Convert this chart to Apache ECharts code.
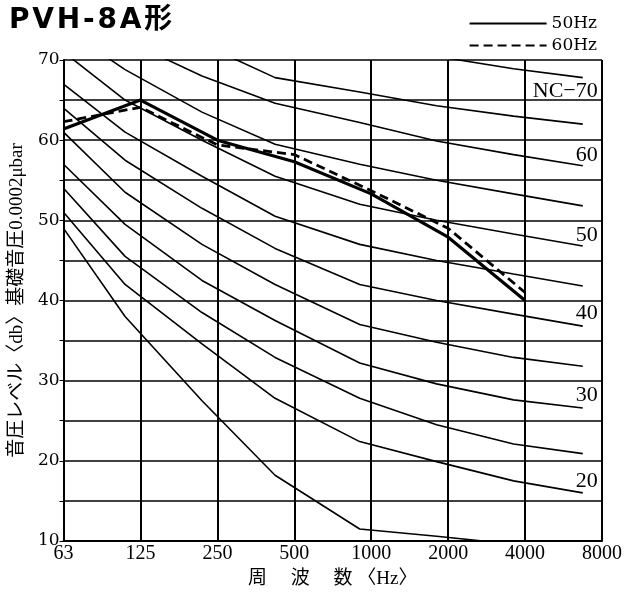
<!DOCTYPE html>
<html>
<head>
<meta charset="utf-8">
<script src="https://cdn.jsdelivr.net/npm/echarts@6/dist/echarts.min.js"></script>
<style>html,body{margin:0;padding:0;background:#fff}#c{width:639px;height:594px}</style>
</head>
<body>
<div id="c"></div>
<script>
// Octave-band tick labels (Hz)
const tickLabels = ['63', '125', '250', '500', '1000', '2000', '4000', '8000'];
// NC curve break-points, in octaves above 63 Hz
const ncPos = [0, 0.8, 1.8, 2.75, 3.85, 4.85, 5.85, 6.75];
const nc70 = [83, 79, 75, 72, 71, 70.45, 68.9, 67.8];
const nc65 = [80, 75.5, 72, 67.8, 66.0, 64.3, 63.0, 62.0];
const nc60 = [77, 72.5, 68, 64.6, 62.2, 59.9, 58.2, 56.8];
const nc55 = [74, 68.8, 63.5, 59.5, 57.0, 55.0, 53.3, 51.8];
const nc50 = [71, 65, 60, 55.5, 52.0, 50.0, 48.3, 46.8];
const nc45 = [67, 61, 55.5, 50.5, 47.0, 45.0, 43.3, 41.8];
const nc40 = [64, 57.5, 51.5, 46.5, 42.0, 40.0, 38.3, 36.8];
const nc35 = [61, 53.5, 47, 42.0, 37.0, 34.8, 32.9, 31.8];
const nc30 = [57, 49.5, 42.5, 37.5, 32.2, 29.6, 27.6, 26.6];
const nc25 = [54, 45.5, 38.5, 32.9, 27.8, 24.5, 22.1, 20.9];
const nc20 = [51, 42, 34.6, 27.8, 22.4, 19.9, 17.5, 16.0];
const nc15 = [49, 38, 27.5, 18.2, 11.5, 10.6, 9.6, 9.0];
const ncCurves = [
  {name: 'NC-70', values: nc70, label: 'NC\u221270', dy: 14},
  {name: 'NC-65', values: nc65},
  {name: 'NC-60', values: nc60, label: '60', dy: -11},
  {name: 'NC-55', values: nc55},
  {name: 'NC-50', values: nc50, label: '50', dy: -11},
  {name: 'NC-45', values: nc45},
  {name: 'NC-40', values: nc40, label: '40', dy: -13},
  {name: 'NC-35', values: nc35},
  {name: 'NC-30', values: nc30, label: '30', dy: -13},
  {name: 'NC-25', values: nc25},
  {name: 'NC-20', values: nc20, label: '20', dy: -12},
  {name: 'NC-15', values: nc15}
];
// Measured unit noise (positions at 63..4000 Hz)
const unitPos = [0, 1, 2, 3, 4, 5, 6];
const hz50 = [61.4, 65.0, 60.0, 57.3, 53.3, 47.9, 40.0];
const hz60 = [62.3, 64.1, 59.4, 58.2, 53.7, 49.0, 41.0];

const times = '"Liberation Serif", "Times New Roman", serif';
const dserif = '"DejaVu Serif", serif';
const mixed = '"Liberation Serif", "Noto Sans CJK JP", serif';
const hs = '\u200A';

const zip = (xs, ys) => xs.map((x, i) => [x, ys[i]]);

const series = ncCurves.map(c => ({
  name: c.name,
  type: 'line',
  data: zip(ncPos, c.values),
  symbol: 'none',
  silent: true,
  clip: true,
  color: '#000',
  lineStyle: {color: '#000', width: 1.6},
  endLabel: c.label ? {
    show: true,
    formatter: c.label,
    color: '#000',
    fontFamily: times,
    fontSize: 22,
    align: 'right',
    verticalAlign: 'middle',
    distance: 0,
    offset: [15, c.dy]
  } : {show: false}
}));
series.push({
  name: '50Hz', type: 'line', data: zip(unitPos, hz50), symbol: 'none', color: '#000',
  lineStyle: {color: '#000', width: 3.2}
});
series.push({
  name: '60Hz', type: 'line', data: zip(unitPos, hz60), symbol: 'none', color: '#000',
  lineStyle: {color: '#000', width: 2.8, type: [9, 5]}
});

const chart = echarts.init(document.getElementById('c'), null, {renderer: 'canvas'});
chart.setOption({
  animation: false,
  backgroundColor: '#fff',
  title: {
    text: ['P', 'V', 'H', '-', '8', 'A', '形'].join(hs), left: 4, top: 2,
    textStyle: {fontFamily: '"DejaVu Sans", "Noto Sans CJK JP", sans-serif', fontWeight: 'bold', fontSize: 28, color: '#000'}
  },
  legend: {
    data: ['50Hz', '60Hz'],
    orient: 'vertical', right: 37, top: 10, itemWidth: 77, itemHeight: 12, itemGap: 5,
    itemStyle: {opacity: 0},
    textStyle: {fontFamily: dserif, fontSize: 17, color: '#000'}
  },
  grid: {left: 62, right: 37, top: 60, bottom: 53},
  xAxis: {
    type: 'value', min: 0, max: 7, interval: 1,
    name: '周\u3000 波\u3000 数 〈Hz〉', nameLocation: 'middle', nameGap: 29,
    nameTextStyle: {fontFamily: mixed, fontSize: 19, color: '#000'},
    axisLine: {show: true, lineStyle: {color: '#000', width: 2}},
    axisTick: {show: false},
    axisLabel: {formatter: v => tickLabels[v], fontFamily: times, fontSize: 20, color: '#000', margin: 3},
    splitLine: {show: true, lineStyle: {color: '#000', width: 2}}
  },
  yAxis: {
    type: 'value', min: 10, max: 70, interval: 5,
    name: '音圧レベル〈db〉基礎音圧0.0002μbar', nameLocation: 'middle', nameGap: 35, nameRotate: 90,
    nameTextStyle: {fontFamily: mixed, fontSize: 19, color: '#000'},
    axisLine: {show: true, lineStyle: {color: '#000', width: 2}},
    axisTick: {show: true, length: 4, lineStyle: {color: '#000'}},
    axisLabel: {formatter: v => (v % 10 === 0 ? String(v) : ''), fontFamily: dserif, fontSize: 17, color: '#000', margin: 4},
    splitLine: {show: true, lineStyle: {color: '#000', width: 1.5}}
  },
  series: series
});
</script>
</body>
</html>
